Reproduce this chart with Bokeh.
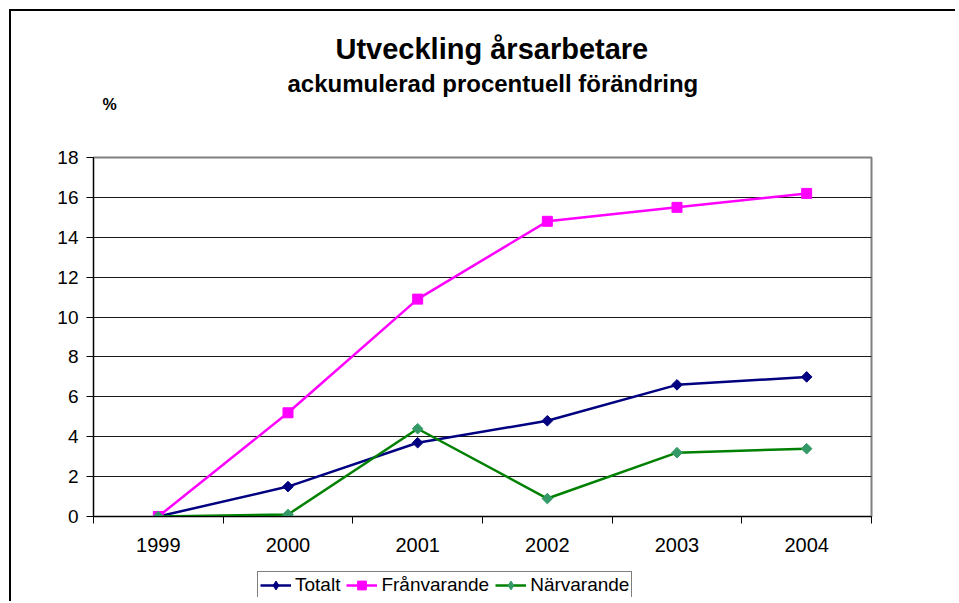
import numpy as np
from bokeh.plotting import figure
from bokeh.layouts import column
from bokeh.models import (Range1d, FixedTicker, Title, Legend, LegendItem)
from bokeh.embed import file_html
from bokeh.resources import INLINE

years = ["1999", "2000", "2001", "2002", "2003", "2004"]
totalt = [0.0, 1.5, 3.7, 4.8, 6.6, 7.0]
franvarande = [0.0, 5.2, 10.9, 14.8, 15.5, 16.2]
narvarande = [0.0, 0.1, 4.4, 0.9, 3.2, 3.4]
y_ticks = [0, 2, 4, 6, 8, 10, 12, 14, 16, 18]
series_names = ["Totalt", "Frånvarande", "Närvarande"]

FONT = "Liberation Sans"
xs = [i + 0.5 for i in range(len(years))]

p = figure(width=946, height=560, output_backend="svg", toolbar_location=None,
           x_range=Range1d(0, len(years)), y_range=Range1d(0, 18),
           min_border_left=82, min_border_right=86, min_border_top=146,
           min_border_bottom=55)
p.background_fill_color = "white"
p.border_fill_color = "white"
p.outline_line_color = "#808080"
p.outline_line_width = 2

# axes
p.xaxis.ticker = FixedTicker(ticks=xs, minor_ticks=list(range(len(years) + 1)))
p.xaxis.major_label_overrides = {x: y for x, y in zip(xs, years)}
p.xaxis.major_tick_out = 0
p.xaxis.major_tick_in = 0
p.xaxis.minor_tick_out = 7
p.xaxis.minor_tick_in = 0
p.xaxis.minor_tick_line_color = "black"
p.xaxis.axis_line_color = "black"
p.xaxis.major_label_text_font = FONT
p.xaxis.major_label_text_font_size = "20px"
p.xaxis.major_label_text_color = "black"
p.xaxis.major_label_standoff = 14

p.yaxis.ticker = FixedTicker(ticks=y_ticks, minor_ticks=[])
p.yaxis.major_tick_out = 7
p.yaxis.major_tick_in = 0
p.yaxis.major_tick_line_color = "black"
p.yaxis.axis_line_color = "black"
p.yaxis.major_label_text_font = FONT
p.yaxis.major_label_text_font_size = "19px"
p.yaxis.major_label_text_color = "black"
p.yaxis.major_label_standoff = 8

p.xgrid.visible = False
p.ygrid.ticker = FixedTicker(ticks=y_ticks[1:-1])
p.ygrid.grid_line_color = "#1a1a1a"
p.ygrid.grid_line_width = 1

# series styles
line_colors = ["#000080", "#FF00FF", "#008000"]
marker_colors = ["#000080", "#FF00FF", "#339966"]
markers = ["square", "square", "square"]
legend_markers = ["diamond", "square", "diamond"]
angles = [np.pi / 4, 0.0, np.pi / 4]
sizes = [7.5, 10, 7.5]
values = [totalt, franvarande, narvarande]

for vals, lc, mc, mk, ang, sz in zip(values, line_colors, marker_colors,
                                     markers, angles, sizes):
    p.line(xs, vals, line_color=lc, line_width=2.5)
    p.scatter(xs, vals, marker=mk, angle=ang, size=sz,
              fill_color=mc, line_color=mc)

# titles: closest to the frame first
p.add_layout(Title(text=" ", text_font_size="10px", standoff=39), "above")
p.add_layout(Title(text="%", align="left", offset=9, text_font=FONT,
                   text_font_size="16px", text_font_style="bold",
                   text_color="black", standoff=-14), "above")
p.add_layout(Title(text="ackumulerad procentuell förändring", align="left",
                   offset=194, text_font=FONT, text_font_size="24px",
                   text_font_style="bold", text_color="black", standoff=7),
             "above")
p.add_layout(Title(text="Utveckling årsarbetare", align="left", offset=242,
                   text_font=FONT, text_font_size="29px",
                   text_font_style="bold", text_color="black", standoff=0),
             "above")

# legend in its own small canvas below the chart (its frame borders are
# aligned with the main chart by the column layout)
q = figure(width=552, height=26, output_backend="svg", toolbar_location=None,
           x_axis_location=None, y_axis_location=None,
           x_range=Range1d(0, 1), y_range=Range1d(0, 1),
           min_border=0, min_border_left=0, min_border_right=0,
           min_border_top=0, min_border_bottom=0)
q.outline_line_color = None
q.xgrid.visible = False
q.ygrid.visible = False
q.background_fill_color = "white"
q.border_fill_color = "white"
items = []
nan = [float("nan")]
for name, lc, mc, mk in zip(series_names, line_colors, marker_colors,
                            legend_markers):
    rl = q.line(x=nan, y=nan, line_color=lc, line_width=2.5)
    rm = q.scatter(x=nan, y=nan, marker=mk, fill_color=mc, line_color=mc)
    items.append(LegendItem(label=name, renderers=[rl, rm]))
legend = Legend(items=items, orientation="horizontal", location="top_left",
                margin=0, padding=2, spacing=6, label_standoff=4,
                glyph_width=31, glyph_height=22, label_height=22,
                label_text_font=FONT, label_text_font_size="19px",
                label_text_color="black",
                border_line_color="black", border_line_width=1,
                background_fill_color="white", background_fill_alpha=1)
q.add_layout(legend, "center")
q.styles = {"margin-left": "164px", "margin-bottom": "6px"}

layout = column(p, q, spacing=0)
layout.styles = {"margin-left": "11px", "margin-top": "11px",
                 "box-shadow": "-2px -2px 0px 0px black"}

open("out.html", "w").write(file_html(layout, INLINE))
